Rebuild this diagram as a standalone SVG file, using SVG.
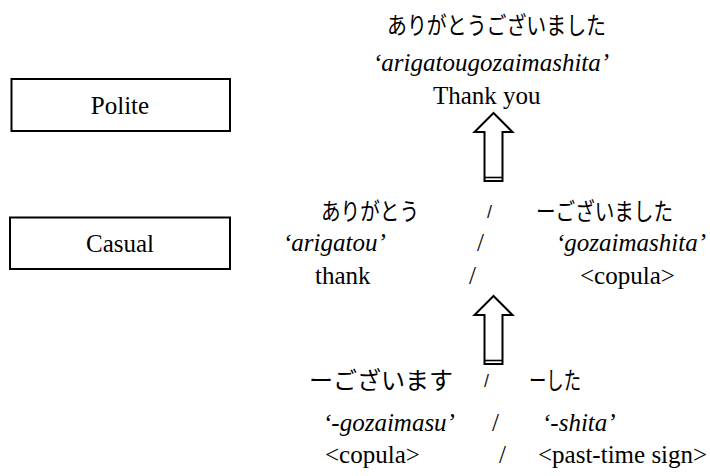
<svg xmlns="http://www.w3.org/2000/svg" width="710" height="476" viewBox="0 0 710 476">
<style>
.jp{font-family:"Noto Sans CJK JP","Noto Sans",sans-serif;font-size:23.5px;fill:#000}
.sl{font-family:"Liberation Sans","Arial",sans-serif;font-size:18px;fill:#222}
.tm{font-family:"Liberation Serif","Times New Roman",serif;font-size:25px;fill:#000}
.it{font-style:italic}
.box{fill:#fff;stroke:#000;stroke-width:2}
.arr{fill:#fff;stroke:#000;stroke-width:2;stroke-linejoin:miter}
.bar{stroke:#000;stroke-width:1.6}
</style>
<rect width="710" height="476" fill="#fff"/>
<g id="polite">
<rect class="box" x="11.5" y="79" width="218.5" height="52"/>
<text class="tm" x="120" y="114" text-anchor="middle">Polite</text>
</g>
<g id="casual">
<rect class="box" x="10" y="217.5" width="220" height="51.5"/>
<text class="tm" x="120" y="252" text-anchor="middle">Casual</text>
</g>
<g id="top-phrase">
<text class="jp" x="387" y="34" textLength="219" lengthAdjust="spacingAndGlyphs">ありがとうございました</text>
<text class="tm it" x="373" y="71">‘arigatougozaimashita’</text>
<text class="tm" x="433" y="104">Thank you</text>
</g>
<g id="middle-phrase">
<text class="jp" x="321" y="220" textLength="98" lengthAdjust="spacingAndGlyphs">ありがとう</text>
<text class="sl" x="487" y="218">/</text>
<text class="jp" x="536" y="220" textLength="137" lengthAdjust="spacingAndGlyphs">ーございました</text>
<text class="tm it" x="283" y="251">‘arigatou’</text>
<text class="tm" x="477" y="251">/</text>
<text class="tm it" x="556" y="251">‘gozaimashita’</text>
<text class="tm" x="315" y="284">thank</text>
<text class="tm" x="469" y="284">/</text>
<text class="tm" x="580" y="284">&lt;copula&gt;</text>
</g>
<g id="bottom-phrase">
<text class="jp" x="309" y="389" textLength="144" lengthAdjust="spacingAndGlyphs">ーございます</text>
<text class="sl" x="484" y="387">/</text>
<text class="jp" x="529" y="389" textLength="52" lengthAdjust="spacingAndGlyphs">ーした</text>
<text class="tm it" x="323" y="431">‘-gozaimasu’</text>
<text class="tm" x="492" y="431">/</text>
<text class="tm it" x="542" y="431">‘-shita’</text>
<text class="tm" x="325" y="463">&lt;copula&gt;</text>
<text class="tm" x="499" y="463">/</text>
<text class="tm" x="538" y="463">&lt;past-time sign&gt;</text>
</g>
<g id="connectors">
<path class="arr" d="M493.5,113 L474.5,132 L484.5,132 L484.5,181 L502.5,181 L502.5,132 L512.5,132 Z"/>
<line class="bar" x1="484.5" y1="177.5" x2="502.5" y2="177.5"/>
<path class="arr" d="M493.5,296 L474.5,315 L484.5,315 L484.5,364 L502.5,364 L502.5,315 L512.5,315 Z"/>
<line class="bar" x1="484.5" y1="360.5" x2="502.5" y2="360.5"/>
</g>
</svg>
